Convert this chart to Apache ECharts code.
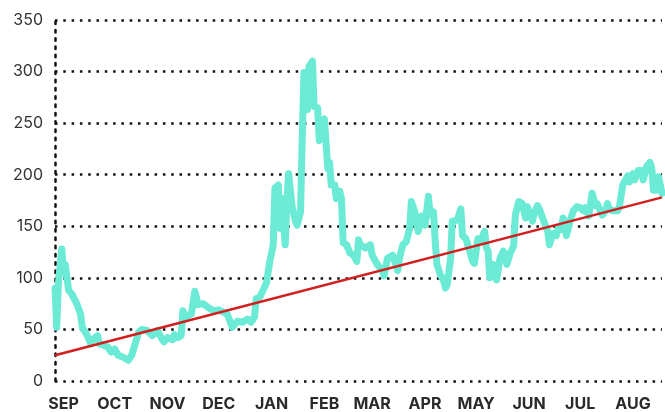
<!DOCTYPE html>
<html>
<head>
<meta charset="utf-8">
<script src="https://cdn.jsdelivr.net/npm/echarts@6/dist/echarts.min.js"></script>
<style>
html, body {
  margin: 0;
  padding: 0;
  background: #fff;
}
#chart {
  width: 665px;
  height: 412px;
}
</style>
</head>
<body>
<div id="chart"></div>
<script>
var DAY = 86400000
var startDate = Date.UTC(2022, 7, 27)
var endDay = 356

// day offsets from startDate and the values read at those days
var dayOffset = [
  0, 1, 2, 4, 5, 6, 8, 10, 13, 15, 16, 19, 21, 22, 25, 26, 28, 31, 33, 35,
  37, 40, 43, 45, 47, 49, 51, 54, 57, 59, 60, 63, 64, 66, 69, 70, 72, 74, 75, 77,
  80, 82, 84, 87, 90, 93, 96, 101, 104, 107, 110, 113, 115, 117, 118, 120, 122, 124, 126, 128,
  129, 131, 132, 133, 135, 136, 137, 139, 141, 142, 144, 145, 146, 147, 148, 149, 151, 152, 154, 155,
  157, 158, 160, 161, 162, 164, 165, 167, 168, 169, 171, 173, 175, 177, 178, 179, 182, 185, 186, 189,
  192, 193, 195, 198, 199, 201, 202, 204, 206, 208, 209, 211, 213, 215, 216, 217, 219, 220, 222, 223,
  224, 226, 228, 229, 230, 232, 233, 236, 238, 239, 241, 242, 245, 246, 248, 250, 252, 253, 254, 255,
  257, 259, 261, 263, 265, 267, 269, 270, 272, 274, 276, 277, 280, 281, 283, 284, 286, 289, 290, 292,
  294, 295, 297, 298, 300, 302, 304, 306, 308, 310, 311, 313, 315, 317, 318, 321, 323, 324, 325, 327,
  330, 331, 333, 334, 336, 337, 339, 340, 342, 344, 345, 347, 349, 350, 351, 353, 354, 356
]
var price = [
  90, 52, 95, 128, 105, 113, 88, 84, 74, 65, 52, 44, 36, 40, 44, 36, 35, 33, 28, 31,
  25, 23, 20, 25, 36, 47, 50, 49, 44, 47, 49, 40, 38, 42, 40, 45, 42, 44, 68, 62,
  65, 87, 74, 75, 71, 68, 69, 65, 52, 58, 57, 60, 57, 62, 80, 81, 88, 95, 116, 132,
  187, 190, 148, 177, 132, 174, 201, 170, 155, 151, 164, 235, 299, 295, 263, 305, 310, 266, 265, 233,
  251, 254, 206, 212, 190, 190, 177, 184, 177, 134, 132, 124, 122, 116, 137, 132, 129, 132, 122, 113,
  107, 102, 119, 122, 123, 107, 119, 132, 135, 148, 174, 164, 145, 160, 160, 151, 179, 161, 164, 135,
  113, 103, 97, 90, 93, 119, 155, 156, 167, 141, 138, 137, 116, 114, 138, 137, 145, 129, 126, 100,
  113, 98, 119, 126, 113, 124, 131, 161, 174, 172, 158, 169, 155, 162, 170, 167, 158, 145, 132, 143,
  141, 148, 147, 158, 141, 155, 165, 169, 168, 165, 168, 160, 182, 170, 172, 161, 165, 172, 167, 165,
  165, 169, 190, 193, 199, 193, 201, 195, 204, 204, 195, 208, 212, 206, 185, 185, 198, 182
]

// straight trend line, start and end
var trendDays = [0, 356]
var trendValues = [25, 178]

var monthNames = ['JAN', 'FEB', 'MAR', 'APR', 'MAY', 'JUN', 'JUL', 'AUG', 'SEP', 'OCT', 'NOV', 'DEC']

function toPoints (days, values) {
  return days.map(function (d, i) {
    return [startDate + d * DAY, values[i]]
  })
}

var dotted = {
  color: '#111',
  width: 2.5,
  type: [2.5, 5.8]
}

var chart = echarts.init(document.getElementById('chart'))
var option = {
  animation: false,
  grid: {
    left: 55,
    right: 3,
    top: 20,
    bottom: 28
  },
  xAxis: {
    type: 'time',
    min: startDate,
    max: startDate + endDay * DAY,
    splitNumber: 12,
    minInterval: 28 * DAY,
    maxInterval: 31 * DAY,
    axisLine: { show: false },
    axisTick: { show: false },
    splitLine: { show: false },
    axisLabel: {
      showMinLabel: false,
      showMaxLabel: false,
      margin: 15,
      color: '#2a2a2a',
      fontFamily: 'Inter',
      fontWeight: 'bold',
      fontSize: 16,
      formatter: function (val) {
        return monthNames[new Date(val).getUTCMonth()]
      }
    }
  },
  yAxis: {
    type: 'value',
    min: 0,
    max: 350,
    interval: 50,
    axisLine: { show: true, lineStyle: dotted },
    axisTick: { show: false },
    splitLine: { show: true, lineStyle: dotted },
    axisLabel: {
      margin: 12,
      color: '#333',
      fontFamily: 'Inter',
      fontSize: 16
    }
  },
  series: [{
    type: 'line',
    data: toPoints(dayOffset, price),
    showSymbol: false,
    lineStyle: {
      color: '#6BEBD5',
      width: 7,
      cap: 'round',
      join: 'round'
    }
  }, {
    type: 'line',
    data: toPoints(trendDays, trendValues),
    showSymbol: false,
    lineStyle: {
      color: '#D21E1E',
      width: 2.5
    }
  }]
}
chart.setOption(option)
</script>
</body>
</html>
